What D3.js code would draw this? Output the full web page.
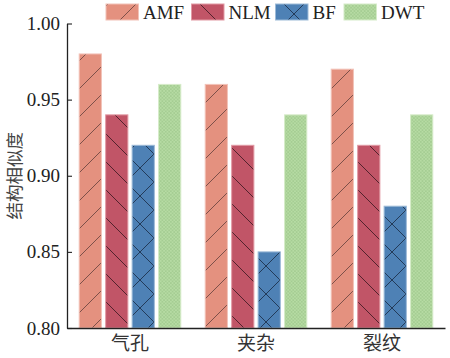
<!DOCTYPE html>
<html><head><meta charset="utf-8">
<script src="https://cdn.jsdelivr.net/npm/d3@7"></script>
<style>body{margin:0;background:#fff}svg{display:block}</style>
</head><body><svg id="c" width="450" height="358"></svg>
<script>
const categories = ['气孔', '夹杂', '裂纹'];
const seriesNames = ['AMF', 'NLM', 'BF', 'DWT'];
const AMF = [0.98, 0.96, 0.97];
const NLM = [0.94, 0.92, 0.92];
const BF  = [0.92, 0.85, 0.88];
const DWT = [0.96, 0.94, 0.94];
const yTicks = [0.80, 0.85, 0.90, 0.95, 1.00];
const yLabel = '结构相似度';

(function () {
const series = [AMF, NLM, BF, DWT];
const fills  = ['#e4917f', '#c15567', '#4e81b5', '#b6dba3'];
const edges  = ['#f2c2b8', '#e29aa4', '#9dbbd8', '#d6ecc9'];
const hatchColor = ['#5b3a36', '#2e1219', '#14243a', '#86b476'];

const svg = d3.select('#c');
const serif = '"Liberation Serif", "Times New Roman", serif';
const cjk = '"Noto Sans CJK SC", sans-serif';

const mLeft = 67, mRight = 445, mTop = 23.5, mBottom = 328;
const x0 = d3.scaleBand().domain(categories).range([mLeft, mRight]).paddingInner(0).paddingOuter(0);
const groupW = 101.6;
const x1 = d3.scaleBand().domain(seriesNames).range([0, groupW]).paddingInner(0.16).paddingOuter(0);
const y = d3.scaleLinear().domain([0.80, 1.00]).range([mBottom, mTop]);

// patterns
const defs = svg.append('defs');
const T = 28;
function linePattern(id, i, dirs) {
  const p = defs.append('pattern').attr('id', id).attr('patternUnits', 'userSpaceOnUse')
    .attr('width', T).attr('height', T);
  p.append('rect').attr('width', T).attr('height', T).attr('fill', fills[i]);
  dirs.forEach(d => {
    if (d === '/') {
      p.append('path').attr('d', `M${-T},${T} L${T},${-T} M0,${T} L${T},0 M0,${2*T} L${2*T},0`)
        .attr('stroke', hatchColor[i]).attr('stroke-width', 1).attr('stroke-opacity', 0.75);
    } else {
      p.append('path').attr('d', `M${-T},0 L${T},${2*T} M0,0 L${T},${T} M0,${-T} L${2*T},${T}`)
        .attr('stroke', hatchColor[i]).attr('stroke-width', 1).attr('stroke-opacity', 0.75);
    }
  });
}
linePattern('h0', 0, ['/']);
linePattern('h1', 1, ['\\']);
linePattern('h2', 2, ['/', '\\']);
{
  const S = 3.4;
  const p = defs.append('pattern').attr('id', 'h3').attr('patternUnits', 'userSpaceOnUse')
    .attr('width', S).attr('height', S);
  p.append('rect').attr('width', S).attr('height', S).attr('fill', fills[3]);
  p.append('circle').attr('cx', 0.85).attr('cy', 0.85).attr('r', 0.55).attr('fill', hatchColor[3]);
  p.append('circle').attr('cx', 2.55).attr('cy', 2.55).attr('r', 0.55).attr('fill', hatchColor[3]);
}

// bars
const groupOffset = (x0.bandwidth() - groupW) / 2;
const g = svg.append('g');
categories.forEach((c, ci) => {
  seriesNames.forEach((s, si) => {
    const v = series[si][ci];
    g.append('rect')
      .attr('x', x0(c) + groupOffset + x1(s))
      .attr('y', y(v))
      .attr('width', x1.bandwidth())
      .attr('height', y(0.80) - y(v))
      .attr('fill', `url(#h${si})`)
      .attr('stroke', edges[si]).attr('stroke-width', 1);
  });
});

// y axis
const yAxis = d3.axisLeft(y).tickValues(yTicks).tickFormat(d3.format('.2f')).tickSizeInner(-5).tickSizeOuter(0).tickPadding(7);
const ya = svg.append('g').attr('transform', `translate(${mLeft},0)`).call(yAxis);
ya.select('.domain').attr('stroke', '#222').attr('stroke-width', 1.3);
ya.selectAll('.tick line').attr('stroke', '#222').attr('stroke-width', 1.1);
ya.selectAll('.tick text').attr('font-family', serif).attr('font-size', 19).attr('fill', '#222')
  .attr('x', -7);

// x axis
const xAxis = d3.axisBottom(x0).tickSize(0).tickPadding(9);
const xa = svg.append('g').attr('transform', `translate(0,${mBottom})`).call(xAxis);
xa.select('.domain').attr('stroke', '#222').attr('stroke-width', 1.3);
xa.selectAll('.tick text').attr('font-family', cjk).attr('font-size', 19).attr('fill', '#333');

// y label
svg.append('text').attr('transform', `translate(20.5,${(mTop + mBottom) / 2}) rotate(-90)`)
  .attr('text-anchor', 'middle')
  .attr('font-family', cjk).attr('font-size', 17.5).attr('fill', '#444')
  .text(yLabel);

// legend
const legX = [106, 191.5, 275.5, 344];
seriesNames.forEach((s, i) => {
  svg.append('rect').attr('x', legX[i]).attr('y', 4).attr('width', 32.5).attr('height', 16)
    .attr('fill', `url(#h${i})`).attr('stroke', edges[i]).attr('stroke-width', 1);
  svg.append('text').attr('x', legX[i] + 37).attr('y', 12).attr('dy', '0.35em')
    .attr('font-family', serif).attr('font-size', 19).attr('fill', '#222').text(s);
});
})();
</script></body></html>
